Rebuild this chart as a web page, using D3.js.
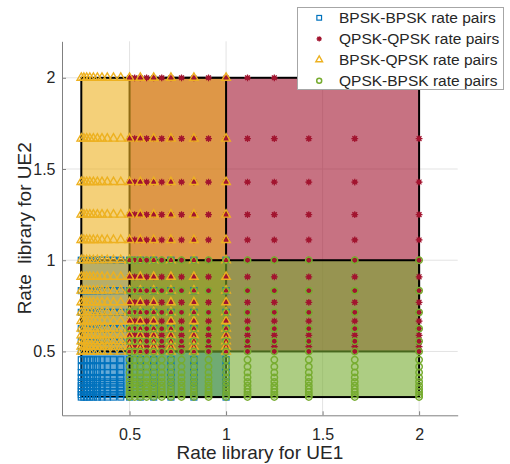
<!DOCTYPE html>
<html>
<head>
<meta charset="utf-8">
<script src="https://cdn.jsdelivr.net/npm/d3@7"></script>
<style>
  html, body { margin: 0; padding: 0; background: #fff; }
  svg { display: block; font-family: "Liberation Sans", Arial, sans-serif; }
</style>
</head>
<body>
<svg id="chart" width="510" height="464"></svg>
<script>
// ---- data ----
const bpskRates = [1, 0.8333, 0.7143, 0.625, 0.5556, 0.5, 0.4545, 0.4167, 0.3846, 0.3571, 0.3333, 0.3125, 0.2941, 0.2778, 0.2632, 0.25];
const qpskRates = [2, 1.6667, 1.4286, 1.25, 1.1111, 1, 0.9091, 0.8333, 0.7692, 0.7143, 0.6667, 0.625, 0.5882, 0.5556, 0.5263, 0.5];
const seriesNames = ["BPSK-BPSK rate pairs", "QPSK-QPSK rate pairs", "BPSK-QPSK rate pairs", "QPSK-BPSK rate pairs"];
const seriesUE1 = [bpskRates, qpskRates, bpskRates, qpskRates];
const seriesUE2 = [bpskRates, qpskRates, qpskRates, bpskRates];
const seriesColors = ["#0072BD", "#A2142F", "#EDB120", "#77AC30"];
const seriesMarkers = ["square", "star", "triangle", "circle"];
const xTicks = [0.5, 1, 1.5, 2];
const yTicks = [0.5, 1, 1.5, 2];
const xLabel = "Rate library for UE1";
const yLabel = "Rate  library for UE2";

// ---- layout ----
const svg = d3.select("#chart");
const x = d3.scaleLinear().domain([0.15, 2.2]).range([62, 457.7]);
const y = d3.scaleLinear().domain([0.15, 2.2]).range([415.3, 41.3]);
const [x0, x1] = x.range();
const [y0, y1] = y.range();

// grid
const grid = svg.append("g");
grid.selectAll("line.gx").data(xTicks).join("line")
  .attr("x1", d => x(d)).attr("x2", d => x(d)).attr("y1", y0).attr("y2", y1)
  .attr("stroke", "#e3e3e3").attr("stroke-width", 1);
grid.selectAll("line.gy").data(yTicks).join("line")
  .attr("y1", d => y(d)).attr("y2", d => y(d)).attr("x1", x0).attr("x2", x1)
  .attr("stroke", "#e3e3e3").attr("stroke-width", 1);

// region rectangles
const regions = seriesNames.map((n, i) => ({
  xmin: d3.min(seriesUE1[i]), xmax: d3.max(seriesUE1[i]),
  ymin: d3.min(seriesUE2[i]), ymax: d3.max(seriesUE2[i]),
  color: seriesColors[i]
}));
svg.append("g").selectAll("rect").data(regions).join("rect")
  .attr("x", d => x(d.xmin)).attr("y", d => y(d.ymax))
  .attr("width", d => x(d.xmax) - x(d.xmin))
  .attr("height", d => y(d.ymin) - y(d.ymax))
  .attr("fill", d => d.color).attr("fill-opacity", 0.6)
  .attr("stroke", "#000").attr("stroke-width", 2);

// marker drawing
function starPath(r) {
  let p = "";
  for (let k = 0; k < 4; k++) {
    const a = k * Math.PI / 4;
    const dx = r * Math.cos(a), dy = r * Math.sin(a);
    p += `M${-dx},${-dy}L${dx},${dy}`;
  }
  return p;
}
function drawMarker(g, type, color, scale) {
  if (type === "square") {
    const s = 6 * scale;
    g.append("rect").attr("x", -s / 2).attr("y", -s / 2).attr("width", s).attr("height", s)
      .attr("fill", "none").attr("stroke", color).attr("stroke-width", 1.2);
  } else if (type === "star") {
    g.append("circle").attr("r", 2.4 * scale).attr("fill", color);
    g.append("path").attr("d", starPath(3.4 * scale)).attr("stroke", color).attr("stroke-width", 1.2);
  } else if (type === "triangle") {
    const s = 8.6 * scale;
    g.append("path").attr("d", d3.symbol(d3.symbolTriangle, s * s * Math.sqrt(3) / 4)())
      .attr("fill", "none").attr("stroke", color).attr("stroke-width", 1.4);
  } else if (type === "circle") {
    g.append("circle").attr("r", 3.2 * scale)
      .attr("fill", "none").attr("stroke", color).attr("stroke-width", 1.5);
  }
}

// scatter points
seriesNames.forEach((name, i) => {
  const pts = [];
  seriesUE1[i].forEach(u1 => seriesUE2[i].forEach(u2 => pts.push([u1, u2])));
  const g = svg.append("g");
  pts.forEach(p => {
    const m = g.append("g").attr("transform", `translate(${x(p[0])},${y(p[1])})`);
    drawMarker(m, seriesMarkers[i], seriesColors[i], 1);
  });
});

// axes
const xAxis = d3.axisBottom(x).tickValues(xTicks).tickFormat(d3.format("~g"))
  .tickSizeInner(-4).tickSizeOuter(0).tickPadding(13.5);
const yAxis = d3.axisLeft(y).tickValues(yTicks).tickFormat(d3.format("~g"))
  .tickSizeInner(-4).tickSizeOuter(0).tickPadding(6.5);
const gx = svg.append("g").attr("transform", `translate(0,${y0})`).call(xAxis);
const gy = svg.append("g").attr("transform", `translate(${x0},0)`).call(yAxis);
[gx, gy].forEach(g => {
  g.select(".domain").attr("stroke", "#808080").attr("stroke-width", 1);
  g.selectAll(".tick line").attr("stroke", "#808080");
  g.selectAll(".tick text").attr("fill", "#262626").style("font-size", "16px")
    .style("font-family", '"Liberation Sans", Arial, sans-serif');
});

// axis labels
svg.append("text").attr("x", (x0 + x1) / 2).attr("y", 458.5).attr("text-anchor", "middle")
  .attr("fill", "#262626").style("font-size", "19px").text(xLabel);
svg.append("text").attr("transform", `translate(30.5,${(y0 + y1) / 2}) rotate(-90)`)
  .attr("text-anchor", "middle").attr("fill", "#262626").style("font-size", "19px")
  .style("white-space", "pre").attr("xml:space", "preserve").text(yLabel);

// legend
const lg = svg.append("g");
lg.append("rect").attr("x", 297.5).attr("y", 7.5).attr("width", 206).attr("height", 82)
  .attr("fill", "#fff").attr("stroke", "#a6a6a6").attr("stroke-width", 1);
seriesNames.forEach((name, i) => {
  const cy = 17.8 + i * 21;
  const m = lg.append("g").attr("transform", `translate(319.2,${cy})`);
  drawMarker(m, seriesMarkers[i], seriesColors[i], 0.78);
  lg.append("text").attr("x", 339).attr("y", cy + 5.5).attr("fill", "#262626")
    .style("font-size", "15.5px").text(name);
});
</script>
</body>
</html>
